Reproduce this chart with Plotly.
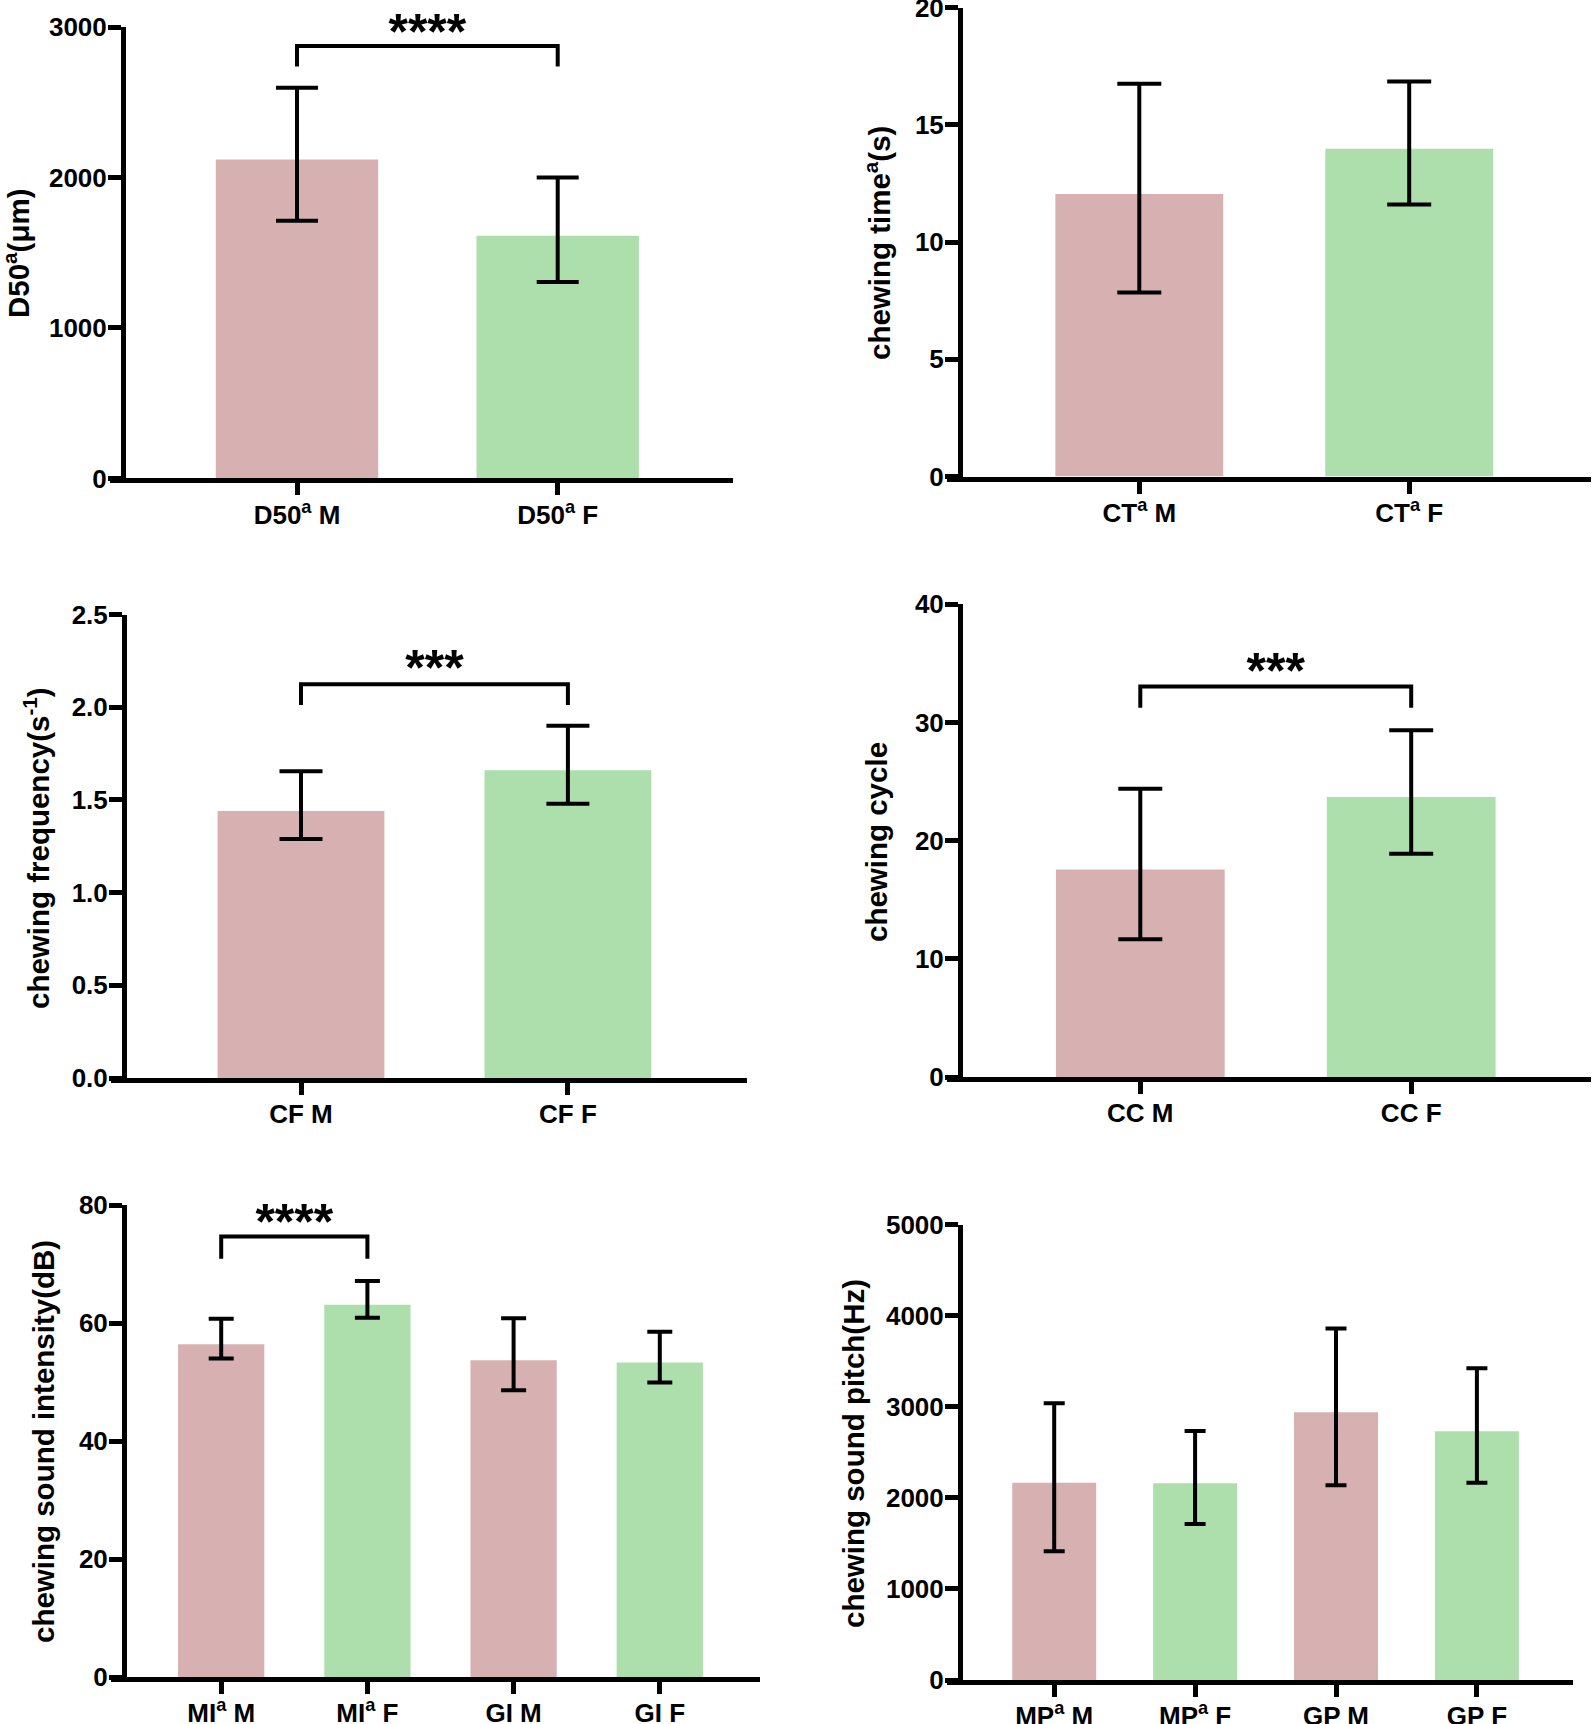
import plotly.graph_objects as go

W, H = 1594, 1724
PINK = "rgb(215,177,177)"
GREEN = "rgb(173,223,173)"
FONT = "Liberation Sans, Arial, sans-serif"

# ---- data ----
d50_labels = ["D50<sup>a</sup> M", "D50<sup>a</sup> F"]
d50_mean = [2120, 1613]
d50_hi = [2597, 1999]
d50_lo = [1712, 1305]

ct_labels = ["CT<sup>a</sup> M", "CT<sup>a</sup> F"]
ct_mean = [12.05, 13.98]
ct_hi = [16.75, 16.85]
ct_lo = [7.85, 11.6]

cf_labels = ["CF M", "CF F"]
cf_mean = [1.44, 1.66]
cf_hi = [1.655, 1.90]
cf_lo = [1.29, 1.48]

cc_labels = ["CC M", "CC F"]
cc_mean = [17.55, 23.7]
cc_hi = [24.4, 29.35]
cc_lo = [11.65, 18.9]

si_labels = ["MI<sup>a</sup> M", "MI<sup>a</sup> F", "GI M", "GI F"]
si_mean = [56.4, 63.1, 53.7, 53.3]
si_hi = [60.7, 67.1, 60.8, 58.5]
si_lo = [54.0, 60.9, 48.6, 49.9]

sp_labels = ["MP<sup>a</sup> M", "MP<sup>a</sup> F", "GP M", "GP F"]
sp_mean = [2168, 2161, 2941, 2733]
sp_hi = [3040, 2736, 3860, 3423]
sp_lo = [1414, 1713, 2138, 2168]

# significance brackets: (left bar, right bar, bracket level, leg end, text level, stars)
d50_sig = [(0, 1, 2874, 2737, 2935, "****")]
cf_sig = [(0, 1, 2.124, 2.012, 2.185, "***")]
cc_sig = [(0, 1, 33.05, 31.24, 34.0, "***")]
si_sig = [(0, 1, 74.67, 70.88, 76.4, "****")]

# ---- panel layout in pixels ----
panels = [
    dict(labels=d50_labels, mean=d50_mean, hi=d50_hi, lo=d50_lo, sig=d50_sig,
         ymax=3000, dtick=1000, fmt="d", title="D50<sup>a</sup>(μm)",
         ax=123, right=733, top=27, bot=478.4, c0=297, sp=260.7, bw=0.623, cap=21,
         tx=17, ty=253),
    dict(labels=ct_labels, mean=ct_mean, hi=ct_hi, lo=ct_lo, sig=[],
         ymax=20, dtick=5, fmt="d", title="chewing time<sup>a</sup>(s)",
         ax=960, right=1591, top=7.5, bot=476.6, c0=1139.3, sp=269.9, bw=0.622, cap=22,
         tx=878, ty=243),
    dict(labels=cf_labels, mean=cf_mean, hi=cf_hi, lo=cf_lo, sig=cf_sig,
         ymax=2.5, dtick=0.5, fmt=".1f", title="chewing frequency(s<sup>-1</sup>)",
         ax=124, right=747.4, top=614.6, bot=1078, c0=301, sp=266.9, bw=0.625, cap=21.5,
         tx=36, ty=848),
    dict(labels=cc_labels, mean=cc_mean, hi=cc_hi, lo=cc_lo, sig=cc_sig,
         ymax=40, dtick=10, fmt="d", title="chewing cycle",
         ax=960, right=1591, top=604.3, bot=1077, c0=1140.3, sp=270.9, bw=0.623, cap=22,
         tx=876, ty=842),
    dict(labels=si_labels, mean=si_mean, hi=si_hi, lo=si_lo, sig=si_sig,
         ymax=80, dtick=20, fmt="d", title="chewing sound intensity(dB)",
         ax=124, right=760, top=1205, bot=1677, c0=221.2, sp=146.2, bw=0.59, cap=12.5,
         tx=43, ty=1442),
    dict(labels=sp_labels, mean=sp_mean, hi=sp_hi, lo=sp_lo, sig=[],
         ymax=5000, dtick=1000, fmt="d", title="chewing sound pitch(Hz)",
         ax=960, right=1573, top=1224.8, bot=1680, c0=1054.2, sp=140.9, bw=0.596, cap=10.5,
         tx=853, ty=1453),
]

TICKLEN = 13

fig = go.Figure()
layout = dict(template="none", width=W, height=H, margin=dict(l=0, r=0, t=0, b=0, pad=0),
              paper_bgcolor="white", plot_bgcolor="white", showlegend=False)
annotations = []

for k, p in enumerate(panels, start=1):
    xa = "x" if k == 1 else f"x{k}"
    ya = "y" if k == 1 else f"y{k}"
    n = len(p["labels"])
    xs = list(range(n))
    colors = [PINK if i % 2 == 0 else GREEN for i in xs]
    fig.add_trace(go.Bar(
        x=xs, y=p["mean"], width=p["bw"], marker=dict(color=colors, line=dict(width=0)),
        error_y=dict(type="data", symmetric=False,
                     array=[h - m for h, m in zip(p["hi"], p["mean"])],
                     arrayminus=[m - l for m, l in zip(p["mean"], p["lo"])],
                     color="black", thickness=4, width=p["cap"]),
        xaxis=xa, yaxis=ya, hoverinfo="skip"))

    for (i, j, lvl, leg, tlev, stars) in p["sig"]:
        fig.add_trace(go.Scatter(
            x=[i, i, j, j], y=[leg, lvl, lvl, leg], mode="lines",
            line=dict(color="black", width=4), cliponaxis=False,
            xaxis=xa, yaxis=ya, hoverinfo="skip"))
        fig.add_trace(go.Scatter(
            x=[(i + j) / 2], y=[tlev], mode="text", text=[stars],
            textposition="middle center", cliponaxis=False,
            textfont=dict(family=FONT, size=50, color="black", weight="bold"),
            xaxis=xa, yaxis=ya, hoverinfo="skip"))

    dom_left = p["ax"] - TICKLEN
    lo = (dom_left - p["c0"]) / p["sp"]
    hi = (p["right"] - p["c0"]) / p["sp"]
    layout["xaxis" if k == 1 else f"xaxis{k}"] = dict(
        domain=[dom_left / W, p["right"] / W], range=[lo, hi], anchor=ya,
        tickvals=xs, ticktext=p["labels"], showline=True, linecolor="black", linewidth=5,
        ticks="outside", ticklen=12, tickwidth=5, tickcolor="black", automargin=False,
        showgrid=False, zeroline=False, fixedrange=True, ticklabeloverflow="allow",
        ticklabelstandoff=-3,
        tickfont=dict(family=FONT, size=26, color="black", weight="bold"))
    layout["yaxis" if k == 1 else f"yaxis{k}"] = dict(
        domain=[1 - p["bot"] / H, 1 - p["top"] / H], range=[0, p["ymax"]],
        anchor="free", position=p["ax"] / W, dtick=p["dtick"], tick0=0,
        tickformat=p["fmt"], showline=True, linecolor="black", linewidth=5,
        ticks="outside", ticklen=TICKLEN, tickwidth=5, tickcolor="black", automargin=False,
        showgrid=False, zeroline=False, fixedrange=True, ticklabeloverflow="allow",
        ticklabelstandoff=-4,
        tickfont=dict(family=FONT, size=26, color="black", weight="bold"))
    annotations.append(dict(x=p["tx"] / W, y=1 - p["ty"] / H, xref="paper", yref="paper",
                            text=p["title"], textangle=-90, showarrow=False,
                            xanchor="center", yanchor="middle",
                            font=dict(family=FONT, size=29.5, color="black", weight="bold")))

layout["annotations"] = annotations
fig.update_layout(**layout)
# drop the browser's default 8px page margin so the figure sits at the window corner
fig.write_html("out.html", config={"displayModeBar": False},
               post_script="document.body.style.margin='0px';")
